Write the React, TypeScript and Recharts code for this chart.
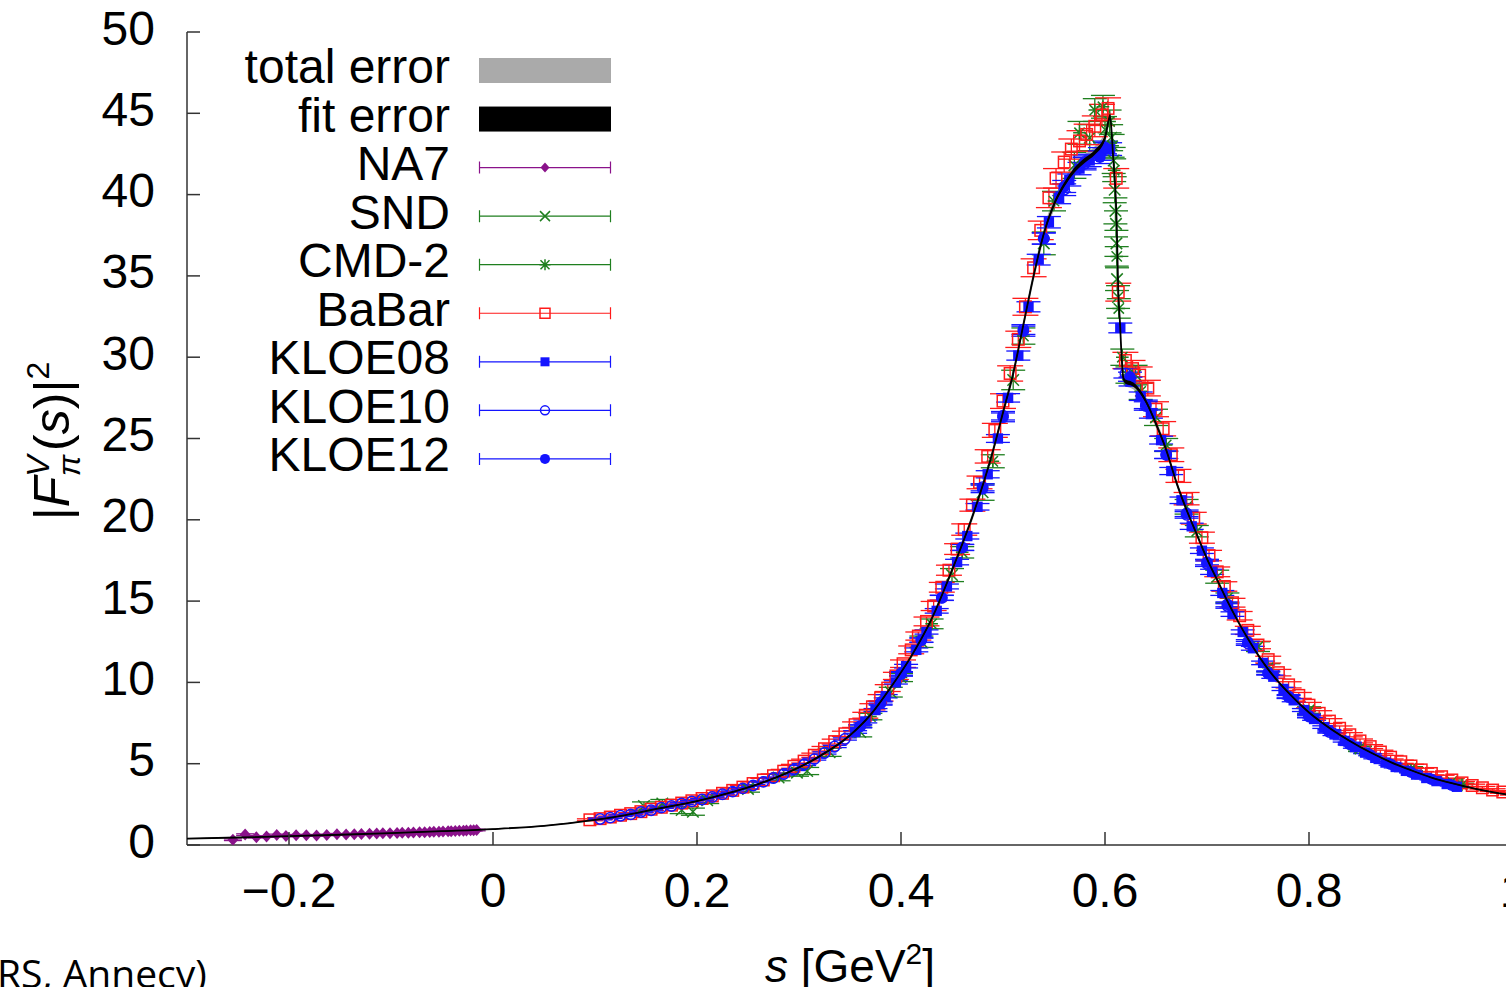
import React from 'react';
import { ComposedChart, Line, Area, Scatter, ErrorBar, XAxis, YAxis } from 'recharts';

const xTicks = [-0.2, 0, 0.2, 0.4, 0.6, 0.8, 1.0];
const yTicks = [0, 5, 10, 15, 20, 25, 30, 35, 40, 45, 50];

// fit curve
const fitS = [-0.3, -0.25, -0.2, -0.15, -0.1, -0.05, 0, 0.05, 0.1, 0.13, 0.16, 0.2, 0.23, 0.26, 0.29, 0.32, 0.35, 0.37, 0.39, 0.41, 0.43, 0.45, 0.47, 0.49, 0.5, 0.51, 0.52, 0.53, 0.54, 0.55, 0.56, 0.57, 0.58, 0.59, 0.6, 0.605, 0.608, 0.6115, 0.613, 0.6147, 0.6165, 0.618, 0.62, 0.625, 0.63, 0.64, 0.65, 0.66, 0.67, 0.68, 0.69, 0.7, 0.71, 0.72, 0.73, 0.74, 0.76, 0.78, 0.8, 0.82, 0.84, 0.86, 0.88, 0.9, 0.92, 0.94, 0.96, 0.98, 1.0];
const fitV = [0.39, 0.46, 0.54, 0.63, 0.73, 0.85, 0.98, 1.18, 1.55, 1.84, 2.22, 2.7, 3.18, 3.75, 4.48, 5.45, 6.75, 8.0, 9.7, 11.6, 13.9, 16.9, 20.2, 24.2, 26.6, 29.0, 32.0, 35.0, 37.6, 39.4, 40.6, 41.5, 42.1, 42.6, 43.5, 44.8, 42.3, 38.2, 34.1, 32.1, 29.8, 28.7, 28.5, 28.4, 28.2, 27.3, 25.9, 24.3, 22.3, 20.6, 19.1, 17.6, 16.3, 15.0, 13.8, 12.7, 10.8, 9.35, 8.15, 7.2, 6.4, 5.7, 5.1, 4.6, 4.15, 3.8, 3.5, 3.25, 3.05];
const fitErr = [0.02, 0.02, 0.02, 0.02, 0.02, 0.02, 0.02, 0.02, 0.02, 0.02, 0.03, 0.03, 0.03, 0.04, 0.04, 0.05, 0.05, 0.06, 0.06, 0.07, 0.08, 0.09, 0.1, 0.11, 0.12, 0.12, 0.13, 0.13, 0.14, 0.14, 0.14, 0.15, 0.15, 0.15, 0.16, 0.18, 0.18, 0.18, 0.16, 0.15, 0.14, 0.13, 0.13, 0.13, 0.13, 0.12, 0.11, 0.1, 0.1, 0.09, 0.08, 0.08, 0.07, 0.07, 0.06, 0.06, 0.05, 0.05, 0.04, 0.04, 0.04, 0.03, 0.03, 0.03, 0.03, 0.03, 0.03, 0.03, 0.03];
const totErr = [0.04, 0.04, 0.04, 0.04, 0.04, 0.04, 0.04, 0.04, 0.04, 0.05, 0.05, 0.06, 0.06, 0.07, 0.08, 0.09, 0.1, 0.12, 0.14, 0.16, 0.18, 0.21, 0.24, 0.27, 0.29, 0.31, 0.33, 0.35, 0.36, 0.37, 0.38, 0.38, 0.38, 0.38, 0.4, 0.45, 0.45, 0.45, 0.4, 0.36, 0.33, 0.3, 0.29, 0.29, 0.28, 0.27, 0.25, 0.23, 0.21, 0.19, 0.17, 0.16, 0.15, 0.14, 0.13, 0.12, 0.1, 0.09, 0.08, 0.07, 0.07, 0.06, 0.06, 0.05, 0.05, 0.05, 0.05, 0.05, 0.05];

// [s, |F|^2, error]
const na7 = [[-0.255, 0.32, 0.05], [-0.243, 0.64, 0.05], [-0.232, 0.48, 0.05], [-0.222, 0.52, 0.05], [-0.212, 0.62, 0.05], [-0.203, 0.55, 0.05], [-0.193, 0.6, 0.05], [-0.183, 0.6, 0.05], [-0.173, 0.59, 0.05], [-0.163, 0.62, 0.05], [-0.153, 0.66, 0.05], [-0.144, 0.64, 0.05], [-0.136, 0.66, 0.05], [-0.129, 0.68, 0.05], [-0.121, 0.69, 0.05], [-0.114, 0.71, 0.05], [-0.108, 0.72, 0.05], [-0.101, 0.73, 0.05], [-0.094, 0.74, 0.05], [-0.089, 0.75, 0.05], [-0.083, 0.76, 0.05], [-0.078, 0.77, 0.05], [-0.072, 0.78, 0.05], [-0.067, 0.79, 0.05], [-0.062, 0.8, 0.05], [-0.058, 0.81, 0.05], [-0.053, 0.82, 0.05], [-0.049, 0.83, 0.05], [-0.044, 0.84, 0.05], [-0.041, 0.85, 0.05], [-0.037, 0.86, 0.05], [-0.033, 0.87, 0.05], [-0.029, 0.88, 0.05], [-0.026, 0.89, 0.05], [-0.022, 0.9, 0.05], [-0.019, 0.91, 0.05], [-0.016, 0.92, 0.05]];

const snd = [[0.148, 2.4, 0.25], [0.166, 2.55, 0.25], [0.185, 2.15, 0.22], [0.196, 2.05, 0.22], [0.21, 2.75, 0.2], [0.25, 3.45, 0.2], [0.28, 4.15, 0.2], [0.298, 4.45, 0.22], [0.308, 4.55, 0.22], [0.33, 5.7, 0.25], [0.36, 6.95, 0.3], [0.39, 9.4, 0.3], [0.42, 12.5, 0.35], [0.45, 16.6, 0.4], [0.48, 21.7, 0.5], [0.51, 28.6, 0.6], [0.54, 37.0, 0.7], [0.57, 41.8, 0.8], [0.585, 43.5, 0.8], [0.6, 44.0, 0.8], [0.606, 43.5, 0.8], [0.6085, 42.1, 0.8], [0.6095, 40.3, 0.8], [0.6102, 39.0, 0.8], [0.6108, 38.2, 0.8], [0.6112, 37.0, 0.8], [0.6118, 34.8, 0.7], [0.6128, 33.7, 0.7], [0.63, 28.9, 0.6], [0.65, 26.3, 0.5], [0.68, 20.8, 0.45], [0.71, 16.5, 0.4], [0.75, 12.2, 0.3], [0.8, 8.3, 0.2], [0.85, 6.0, 0.15], [0.9, 4.7, 0.12], [0.94, 3.9, 0.1]];

const cmd2 = [[0.37, 7.9, 0.2], [0.4, 10.3, 0.25], [0.43, 13.6, 0.3], [0.46, 18.0, 0.35], [0.49, 23.6, 0.4], [0.52, 31.3, 0.5], [0.55, 39.6, 0.6], [0.575, 43.8, 0.7], [0.59, 45.2, 0.7], [0.598, 45.4, 0.7], [0.6045, 44.5, 0.7], [0.6075, 43.0, 0.7], [0.609, 41.5, 0.7], [0.6115, 36.2, 0.6], [0.6135, 33.0, 0.6], [0.617, 30.0, 0.5], [0.622, 28.9, 0.5], [0.635, 27.9, 0.5], [0.66, 24.6, 0.4], [0.69, 19.3, 0.35], [0.72, 15.2, 0.3], [0.76, 10.9, 0.25], [0.8, 8.2, 0.2], [0.85, 5.9, 0.15], [0.9, 4.6, 0.12], [0.95, 3.7, 0.1]];

const babar = [[0.095, 1.55, 0.06], [0.105, 1.62, 0.06], [0.115, 1.72, 0.06], [0.125, 1.83, 0.06], [0.135, 1.93, 0.06], [0.145, 2.05, 0.06], [0.155, 2.2, 0.07], [0.165, 2.32, 0.07], [0.175, 2.45, 0.07], [0.185, 2.58, 0.07], [0.195, 2.72, 0.08], [0.205, 2.86, 0.08], [0.215, 3.02, 0.08], [0.225, 3.18, 0.09], [0.235, 3.36, 0.09], [0.245, 3.56, 0.1], [0.255, 3.78, 0.1], [0.265, 4.0, 0.1], [0.275, 4.26, 0.11], [0.285, 4.54, 0.11], [0.295, 4.84, 0.12], [0.305, 5.16, 0.12], [0.315, 5.52, 0.13], [0.325, 5.92, 0.14], [0.335, 6.36, 0.15], [0.345, 6.84, 0.16], [0.355, 7.4, 0.17], [0.365, 7.98, 0.18], [0.372, 8.5, 0.19], [0.38, 9.05, 0.2], [0.387, 9.65, 0.21], [0.395, 10.4, 0.22], [0.402, 11.15, 0.23], [0.41, 12.0, 0.24], [0.417, 12.85, 0.25], [0.425, 13.75, 0.27], [0.432, 14.7, 0.28], [0.44, 15.85, 0.3], [0.447, 16.9, 0.31], [0.455, 18.2, 0.33], [0.462, 19.4, 0.35], [0.47, 20.9, 0.37], [0.477, 22.3, 0.39], [0.485, 23.9, 0.41], [0.492, 25.5, 0.43], [0.5, 27.3, 0.45], [0.507, 29.0, 0.47], [0.515, 31.1, 0.5], [0.522, 33.1, 0.52], [0.53, 35.5, 0.55], [0.537, 37.8, 0.57], [0.545, 39.8, 0.6], [0.552, 41.0, 0.6], [0.56, 42.0, 0.62], [0.567, 42.8, 0.62], [0.575, 43.3, 0.63], [0.582, 43.7, 0.63], [0.59, 44.2, 0.64], [0.597, 44.9, 0.65], [0.603, 45.3, 0.65], [0.611, 41.0, 0.6], [0.613, 34.0, 0.55], [0.62, 29.8, 0.5], [0.627, 29.3, 0.5], [0.634, 28.9, 0.5], [0.642, 28.1, 0.48], [0.65, 26.8, 0.46], [0.657, 25.6, 0.44], [0.665, 24.0, 0.42], [0.672, 22.7, 0.4], [0.68, 21.3, 0.38], [0.687, 20.1, 0.36], [0.695, 18.9, 0.34], [0.702, 17.8, 0.32], [0.71, 16.8, 0.3], [0.717, 15.9, 0.29], [0.725, 14.9, 0.27], [0.732, 14.1, 0.26], [0.74, 13.2, 0.25], [0.75, 12.3, 0.23], [0.76, 11.4, 0.21], [0.77, 10.6, 0.2], [0.78, 9.85, 0.19], [0.79, 9.2, 0.18], [0.8, 8.6, 0.17], [0.81, 8.1, 0.16], [0.82, 7.62, 0.15], [0.83, 7.18, 0.14], [0.84, 6.78, 0.13], [0.85, 6.4, 0.12], [0.86, 6.05, 0.12], [0.87, 5.72, 0.11], [0.88, 5.4, 0.11], [0.89, 5.12, 0.1], [0.9, 4.86, 0.1], [0.91, 4.62, 0.1], [0.92, 4.4, 0.09], [0.93, 4.2, 0.09], [0.94, 4.0, 0.09], [0.95, 3.82, 0.08], [0.96, 3.66, 0.08], [0.97, 3.52, 0.08], [0.98, 3.38, 0.08], [0.99, 3.26, 0.08], [1.0, 3.15, 0.08]];

const kloe08 = [[0.355, 6.95, 0.08], [0.365, 7.6, 0.09], [0.375, 8.3, 0.09], [0.385, 9.15, 0.1], [0.395, 10.0, 0.1], [0.405, 11.0, 0.11], [0.415, 12.0, 0.12], [0.425, 13.1, 0.13], [0.435, 14.4, 0.14], [0.445, 15.9, 0.15], [0.455, 17.4, 0.17], [0.465, 19.0, 0.18], [0.475, 20.8, 0.2], [0.485, 22.8, 0.22], [0.495, 25.0, 0.24], [0.505, 27.5, 0.26], [0.515, 30.1, 0.28], [0.525, 33.1, 0.31], [0.535, 36.0, 0.33], [0.545, 38.3, 0.35], [0.555, 39.8, 0.36], [0.565, 40.9, 0.37], [0.575, 41.6, 0.38], [0.585, 42.1, 0.38], [0.595, 42.5, 0.39], [0.605, 42.8, 0.39], [0.615, 31.8, 0.3], [0.625, 28.5, 0.27], [0.635, 27.6, 0.26], [0.645, 26.5, 0.25], [0.655, 24.9, 0.24], [0.665, 23.0, 0.22], [0.675, 21.2, 0.2], [0.685, 19.6, 0.19], [0.695, 18.1, 0.17], [0.705, 16.8, 0.16], [0.715, 15.5, 0.15], [0.725, 14.2, 0.14], [0.735, 13.1, 0.13], [0.745, 12.1, 0.12], [0.755, 11.2, 0.11], [0.765, 10.35, 0.1], [0.775, 9.6, 0.1], [0.785, 8.9, 0.09], [0.795, 8.3, 0.09], [0.805, 7.75, 0.08], [0.815, 7.25, 0.08], [0.825, 6.8, 0.07], [0.835, 6.4, 0.07], [0.845, 6.02, 0.07], [0.855, 5.68, 0.06], [0.865, 5.36, 0.06], [0.875, 5.07, 0.06], [0.885, 4.8, 0.06], [0.895, 4.56, 0.05], [0.905, 4.33, 0.05], [0.915, 4.12, 0.05], [0.925, 3.93, 0.05], [0.935, 3.75, 0.05], [0.945, 3.58, 0.05]];

const kloe10 = [[0.105, 1.6, 0.05], [0.115, 1.68, 0.05], [0.125, 1.8, 0.05], [0.135, 1.88, 0.05], [0.145, 2.03, 0.05], [0.155, 2.14, 0.05], [0.165, 2.3, 0.05], [0.175, 2.4, 0.05], [0.185, 2.55, 0.05], [0.195, 2.68, 0.05], [0.205, 2.8, 0.05], [0.215, 2.95, 0.05], [0.225, 3.12, 0.05], [0.235, 3.28, 0.05], [0.245, 3.48, 0.05], [0.255, 3.66, 0.05], [0.265, 3.88, 0.05], [0.275, 4.12, 0.06], [0.285, 4.36, 0.06], [0.295, 4.64, 0.06], [0.305, 4.95, 0.06], [0.315, 5.28, 0.06], [0.325, 5.66, 0.07], [0.335, 6.06, 0.07], [0.345, 6.52, 0.07], [0.36, 7.3, 0.08], [0.38, 8.75, 0.09], [0.4, 10.55, 0.11], [0.42, 12.6, 0.13], [0.44, 15.2, 0.15], [0.46, 18.3, 0.18], [0.48, 22.0, 0.22], [0.5, 26.4, 0.26], [0.52, 31.7, 0.3], [0.54, 37.3, 0.34], [0.56, 40.3, 0.36], [0.58, 41.9, 0.38], [0.6, 42.8, 0.39], [0.62, 29.0, 0.28], [0.64, 27.0, 0.26], [0.66, 24.0, 0.23], [0.68, 20.3, 0.2], [0.7, 17.3, 0.17], [0.72, 14.7, 0.14], [0.74, 12.4, 0.12], [0.76, 10.55, 0.1], [0.78, 9.1, 0.09], [0.8, 7.9, 0.08], [0.82, 6.95, 0.07], [0.84, 6.2, 0.06]];

const kloe12 = [[0.36, 7.3, 0.09], [0.38, 8.7, 0.1], [0.4, 10.5, 0.12], [0.42, 12.6, 0.14], [0.44, 15.2, 0.16], [0.46, 18.3, 0.19], [0.48, 21.9, 0.23], [0.5, 26.3, 0.27], [0.52, 31.6, 0.31], [0.54, 37.3, 0.35], [0.56, 40.5, 0.37], [0.58, 42.0, 0.38], [0.595, 42.3, 0.39], [0.6, 42.9, 0.39], [0.6245, 28.8, 0.28], [0.64, 27.1, 0.26], [0.66, 24.0, 0.23], [0.68, 20.4, 0.2], [0.7, 17.4, 0.17], [0.72, 14.8, 0.15], [0.74, 12.5, 0.13], [0.76, 10.6, 0.11], [0.78, 9.15, 0.1], [0.8, 7.95, 0.09], [0.82, 7.02, 0.08], [0.84, 6.25, 0.07], [0.86, 5.55, 0.06], [0.88, 4.97, 0.06], [0.9, 4.48, 0.05], [0.92, 4.05, 0.05], [0.94, 3.68, 0.05]];

const legendLabels = ['total error', 'fit error', 'NA7', 'SND', 'CMD-2', 'BaBar', 'KLOE08', 'KLOE10', 'KLOE12'];

const RED = '#ff1a1a';
const BLUE = '#1414ff';
const GREEN = '#1f7f1f';
const PURPLE = '#8a128a';
const AXIS = '#333';
const TICK_LEN = 13;
const FONT = '"Liberation Sans", Arial, Helvetica, sans-serif';

const fitRows = fitS.map((s, i) => ({
  s,
  v: fitV[i],
  fit: [fitV[i] - fitErr[i], fitV[i] + fitErr[i]],
  tot: [fitV[i] - totErr[i], fitV[i] + totErr[i]],
}));
const rows = (arr: number[][]) => arr.map(([s, v, e]) => ({ s, v, e }));

const fmtX = (v: number) => {
  if (v === 0) return '0';
  if (v === 1) return '1';
  return v < 0 ? '\u2212' + Math.abs(v).toFixed(1) : v.toFixed(1);
};

// gnuplot style ticks: pointing inwards, mirrored on top/right
const BottomTick = (p: any) => (
  <g>
    <line x1={p.x} y1={p.y} x2={p.x} y2={p.y - TICK_LEN} stroke={AXIS} strokeWidth={1.5} />
    <text x={p.x} y={p.y + 62} textAnchor="middle" fontSize={48} fontFamily={FONT} fill="#000">
      {fmtX(p.payload.value)}
    </text>
  </g>
);
const TopTick = (p: any) => (
  <line x1={p.x} y1={p.y} x2={p.x} y2={p.y + TICK_LEN} stroke={AXIS} strokeWidth={1.5} />
);
const LeftTick = (p: any) => (
  <g>
    <line x1={p.x} y1={p.y} x2={p.x + TICK_LEN} y2={p.y} stroke={AXIS} strokeWidth={1.5} />
    <text x={155} y={p.y + 12.5} textAnchor="end" fontSize={48} fontFamily={FONT} fill="#000">
      {p.payload.value}
    </text>
  </g>
);
const RightTick = (p: any) => (
  <line x1={p.x} y1={p.y} x2={p.x - TICK_LEN} y2={p.y} stroke={AXIS} strokeWidth={1.5} />
);

// marker shapes; k scales them (plot markers are a bit larger than the legend ones)
const Diamond = (p: any) => {
  const k = p.k ?? 1.2;
  return <path d={`M${p.cx},${p.cy - 5 * k}L${p.cx + 4.5 * k},${p.cy}L${p.cx},${p.cy + 5 * k}L${p.cx - 4.5 * k},${p.cy}Z`} fill={PURPLE} />;
};
const XMark = (p: any) => {
  const r = 5 * (p.k ?? 1.15);
  return <path d={`M${p.cx - r},${p.cy - r}L${p.cx + r},${p.cy + r}M${p.cx - r},${p.cy + r}L${p.cx + r},${p.cy - r}`} stroke={GREEN} strokeWidth={1.5} fill="none" />;
};
const StarMark = (p: any) => {
  const k = p.k ?? 1.15;
  const r = 4.5 * k;
  const q = 5.5 * k;
  return <path d={`M${p.cx - r},${p.cy - r}L${p.cx + r},${p.cy + r}M${p.cx - r},${p.cy + r}L${p.cx + r},${p.cy - r}M${p.cx - q},${p.cy}L${p.cx + q},${p.cy}M${p.cx},${p.cy - q}L${p.cx},${p.cy + q}`} stroke={GREEN} strokeWidth={1.5} fill="none" />;
};
const OpenSquare = (p: any) => {
  const h = 5 * (p.k ?? 1.15);
  return <rect x={p.cx - h} y={p.cy - h} width={2 * h} height={2 * h} fill="none" stroke={RED} strokeWidth={1.5} />;
};
const FilledSquare = (p: any) => {
  const h = 4.5 * (p.k ?? 1.15);
  return <rect x={p.cx - h} y={p.cy - h} width={2 * h} height={2 * h} fill={BLUE} />;
};
const OpenCircle = (p: any) => (
  <circle cx={p.cx} cy={p.cy} r={4.5 * (p.k ?? 1.15)} fill="none" stroke={BLUE} strokeWidth={1.5} />
);
const FilledCircle = (p: any) => <circle cx={p.cx} cy={p.cy} r={5 * (p.k ?? 1.15)} fill={BLUE} />;

const legendMarks = [
  { color: PURPLE, Shape: Diamond },
  { color: GREEN, Shape: XMark },
  { color: GREEN, Shape: StarMark },
  { color: RED, Shape: OpenSquare },
  { color: BLUE, Shape: FilledSquare },
  { color: BLUE, Shape: OpenCircle },
  { color: BLUE, Shape: FilledCircle },
];

const Legend = () => (
  <g>
    {legendLabels.map((label, i) => {
      const cy = 70.5 + 48.55 * i;
      return (
        <g key={label}>
          <text x={450} y={cy + 12.5} textAnchor="end" fontSize={48} fontFamily={FONT} fill="#000">
            {label}
          </text>
          {i === 0 && <rect x={479} y={cy - 12.5} width={132} height={25} fill="#aaaaaa" />}
          {i === 1 && <rect x={479} y={cy - 12.5} width={132} height={25} fill="#000" />}
          {i >= 2 && (() => {
            const m = legendMarks[i - 2];
            return (
              <g>
                <path d={`M479,${cy}L611,${cy}M479.5,${cy - 6}L479.5,${cy + 6}M610.5,${cy - 6}L610.5,${cy + 6}`} stroke={m.color} strokeWidth={1.2} fill="none" />
                <m.Shape cx={545} cy={cy} k={1} />
              </g>
            );
          })()}
        </g>
      );
    })}
  </g>
);

const App: React.FC = () => (
  <div style={{ position: 'fixed', left: 0, top: 0, width: 1506, height: 987, overflow: 'hidden', background: '#fff' }}>
    <ComposedChart width={1540} height={987} margin={{ top: 32, right: 27, bottom: 0, left: 0 }}>
      <XAxis dataKey="s" type="number" domain={[-0.3, 1]} ticks={xTicks} interval={0} height={142} tickSize={0} tickMargin={0} tickLine={false} tick={<BottomTick />} axisLine={{ stroke: AXIS, strokeWidth: 1.5 }} allowDataOverflow />
      <XAxis xAxisId="top" orientation="top" type="number" domain={[-0.3, 1]} ticks={xTicks} interval={0} height={0} tickSize={0} tickMargin={0} tickLine={false} tick={<TopTick />} axisLine={{ stroke: AXIS, strokeWidth: 1.5 }} allowDataOverflow />
      <YAxis dataKey="v" type="number" domain={[0, 50]} ticks={yTicks} interval={0} width={187} tickSize={0} tickMargin={0} tickLine={false} tick={<LeftTick />} axisLine={{ stroke: AXIS, strokeWidth: 1.5 }} allowDataOverflow />
      <YAxis yAxisId="right" orientation="right" type="number" domain={[0, 50]} ticks={yTicks} interval={0} width={0} tickSize={0} tickMargin={0} tickLine={false} tick={<RightTick />} axisLine={{ stroke: AXIS, strokeWidth: 1.5 }} allowDataOverflow />

      <Area data={fitRows} dataKey="tot" type="monotone" stroke="none" fill="#aaaaaa" fillOpacity={1} isAnimationActive={false} />

      <Scatter data={rows(na7)} shape={Diamond} isAnimationActive={false}>
        <ErrorBar dataKey="e" direction="y" width={9} stroke={PURPLE} strokeWidth={1.2} />
      </Scatter>
      <Scatter data={rows(snd)} shape={XMark} isAnimationActive={false}>
        <ErrorBar dataKey="e" direction="y" width={12} stroke={GREEN} strokeWidth={1.3} />
      </Scatter>
      <Scatter data={rows(cmd2)} shape={StarMark} isAnimationActive={false}>
        <ErrorBar dataKey="e" direction="y" width={12} stroke={GREEN} strokeWidth={1.3} />
      </Scatter>
      <Scatter data={rows(babar)} shape={OpenSquare} isAnimationActive={false}>
        <ErrorBar dataKey="e" direction="y" width={13} stroke={RED} strokeWidth={1.3} />
      </Scatter>
      <Scatter data={rows(kloe08)} shape={FilledSquare} isAnimationActive={false}>
        <ErrorBar dataKey="e" direction="y" width={12} stroke={BLUE} strokeWidth={1.3} />
      </Scatter>
      <Scatter data={rows(kloe10)} shape={OpenCircle} isAnimationActive={false}>
        <ErrorBar dataKey="e" direction="y" width={12} stroke={BLUE} strokeWidth={1.3} />
      </Scatter>
      <Scatter data={rows(kloe12)} shape={FilledCircle} isAnimationActive={false}>
        <ErrorBar dataKey="e" direction="y" width={12} stroke={BLUE} strokeWidth={1.3} />
      </Scatter>

      <Area data={fitRows} dataKey="fit" type="monotone" stroke="none" fill="#000" fillOpacity={1} isAnimationActive={false} zIndex={650} />
      <Line data={fitRows} dataKey="v" type="monotone" stroke="#000" strokeWidth={1.8} dot={false} activeDot={false} isAnimationActive={false} zIndex={660} />
    </ComposedChart>

    <svg width={1506} height={987} style={{ position: 'absolute', left: 0, top: 0, pointerEvents: 'none' }}>
      <Legend />
      <text transform="translate(69,441) rotate(-90)" textAnchor="middle" fontSize={50} fontFamily={FONT} fill="#000">
        <tspan>|</tspan>
        <tspan fontStyle="italic">F</tspan>
        <tspan fontSize={32} fontStyle="italic" dy={-20}>V</tspan>
        <tspan fontSize={32} fontStyle="italic" dx={-21} dy={31}>π</tspan>
        <tspan dy={-11} dx={4}>(</tspan>
        <tspan fontStyle="italic">s</tspan>
        <tspan>)|</tspan>
        <tspan fontSize={32} dy={-20}>2</tspan>
      </text>
      <text x={850} y={982} textAnchor="middle" fontSize={46} fontFamily={FONT} fill="#000">
        <tspan fontStyle="italic">s</tspan>
        <tspan> [GeV</tspan>
        <tspan fontSize={30} dy={-18}>2</tspan>
        <tspan dy={18}>]</tspan>
      </text>
      <text x={-3} y={988} fontSize={39} fontFamily='"Open Sans", sans-serif' fill="#000">
        RS, Annecy)
      </text>
    </svg>
  </div>
);

export default App;
